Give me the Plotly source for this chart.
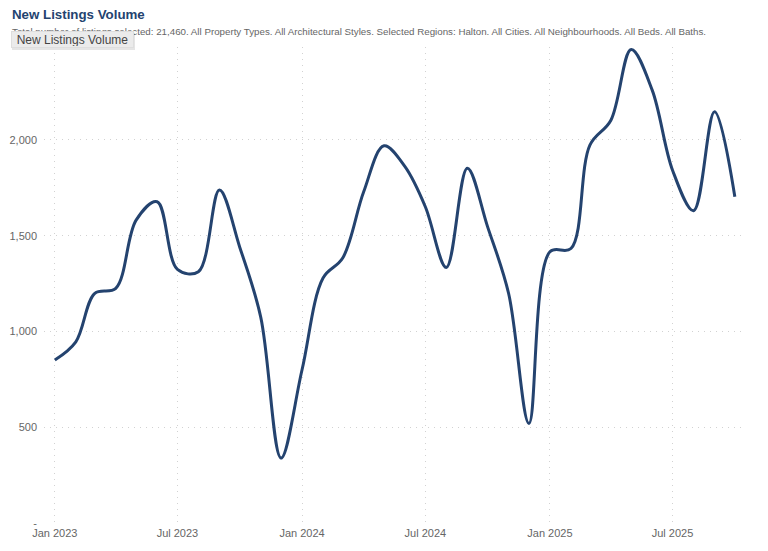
import plotly.graph_objects as go
import pandas as pd

months = pd.date_range("2023-01-01", "2025-10-01", freq="MS")
new_listings = [
    851, 946, 1199, 1225, 1581, 1677, 1324, 1312, 1738, 1440, 1075, 339,
    800, 1279, 1383, 1729, 1969, 1860, 1651, 1334, 1852, 1546, 1198, 520,
    1416, 1433, 1973, 2103, 2472, 2260, 1842, 1630, 2147, 1703,
]
y_tickvals = [0, 500, 1000, 1500, 2000]
y_ticktext = ["-", "500", "1,000", "1,500", "2,000"]

title_text = "New Listings Volume"
subtitle_text = ("Total number of listings selected: 21,460. All Property Types. All Architectural Styles. "
                 "Selected Regions: Halton. All Cities. All Neighbourhoods. All Beds. All Baths.")
series_name = "New Listings Volume"

# figure geometry (page has an 8px body margin)
FW, FH = 760, 543
L, R, T, B = 36, 23, 39, 28
W, H = FW - L - R, FH - T - B


def px(xf):
    return (xf - L) / W


def py(yf):
    return 1 + (T - yf) / H


fig = go.Figure()
fig.add_trace(go.Scatter(
    x=months, y=new_listings, mode="lines", name=series_name,
    line=dict(color="#24436f", width=3, shape="spline", smoothing=1.0),
    hoverinfo="x+y",
))

font_family = "Liberation Sans, Arial, Helvetica, sans-serif"

fig.update_layout(
    width=FW, height=FH,
    margin=dict(l=L, r=R, t=T, b=B, autoexpand=False),
    paper_bgcolor="white", plot_bgcolor="white",
    showlegend=False,
    font=dict(family=font_family, color="#666666", size=11),
    xaxis=dict(
        range=[pd.Timestamp("2022-12-16"), pd.Timestamp("2025-10-16")],
        tickformat="%b %Y", dtick="M6", tick0="2023-01-01",
        showgrid=True, gridcolor="#d2d2d2", griddash="1px,5px", gridwidth=1,
        zeroline=False, showline=False, ticks="", automargin=False,
        ticklabelstandoff=2,
        tickfont=dict(size=11, color="#666666"),
    ),
    yaxis=dict(
        range=[0, 2485],
        tickvals=y_tickvals, ticktext=y_ticktext,
        showgrid=True, gridcolor="#d2d2d2", griddash="1px,5px", gridwidth=1,
        zeroline=False, showline=False, ticks="", automargin=False,
        ticklabelstandoff=6,
        tickfont=dict(size=11, color="#666666"),
    ),
    annotations=[
        dict(text="<b>" + title_text + "</b>", xref="paper", yref="paper",
             x=px(2), y=py(6), xanchor="left", yanchor="middle",
             showarrow=False, font=dict(size=13.3, color="#24436f", family=font_family)),
        dict(text=subtitle_text, xref="paper", yref="paper",
             x=px(2), y=py(23.5), xanchor="left", yanchor="middle",
             showarrow=False, font=dict(size=9.75, color="#666666", family=font_family)),
        # legend pill shadow
        dict(text=" ", xref="paper", yref="paper",
             x=px(65.5), y=py(33), xanchor="center", yanchor="middle",
             showarrow=False, width=121, height=15, borderpad=1, borderwidth=0,
             bgcolor="rgba(0,0,0,0.10)", font=dict(size=11)),
        # legend pill
        dict(text=series_name, xref="paper", yref="paper",
             x=px(64.5), y=py(31.5), xanchor="center", yanchor="middle",
             showarrow=False, width=119, height=13, borderpad=1, borderwidth=1,
             bgcolor="#ebebeb", bordercolor="#dedede",
             font=dict(size=12, color="#444444", family=font_family)),
    ],
    shapes=[
        # faint strip on the right edge
        dict(type="rect", xref="paper", yref="paper",
             x0=px(757), x1=px(762), y0=py(FH + 2), y1=py(-10),
             fillcolor="#f2f2f2", line=dict(width=0), layer="below"),
    ],
)

fig.write_html("out.html")
